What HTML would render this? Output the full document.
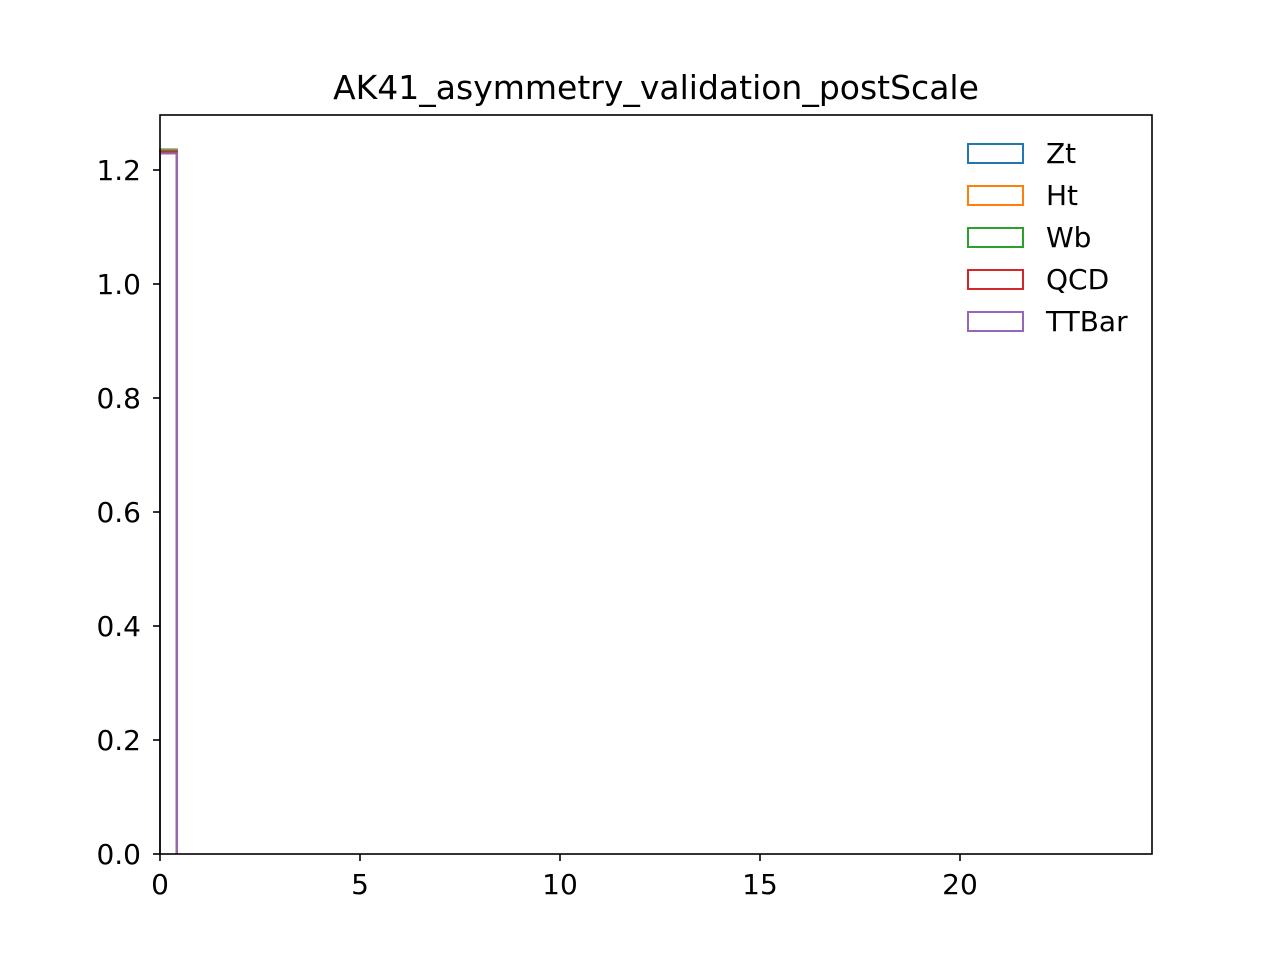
<!DOCTYPE html>
<html><head><meta charset="utf-8"><style>
body{margin:0;background:#fff;font-family:"Liberation Sans","DejaVu Sans",sans-serif;}
svg text{font-family:"DejaVu Sans","Liberation Sans",sans-serif;}
</style></head><body>
<svg id="chart" width="1280" height="960">
<rect width="1280" height="960" fill="#fff"/>
<text x="656" y="99" font-size="33" text-anchor="middle">AK41_asymmetry_validation_postScale</text>
<g id="marks"></g>
<g id="axes"></g>
<rect x="160" y="115" width="992" height="739" fill="none" stroke="#000" stroke-width="1.6"/>
<g id="legend"></g>
</svg>
<script>
const seriesNames=["Zt","Ht","Wb","QCD","TTBar"];
const seriesColors=["#1f77b4","#ff7f0e","#2ca02c","#d62728","#9467bd"];
const binEdges=[0,0.42];
const seriesValues=[[1.236],[1.235],[1.234],[1.232],[1.229]];
const xTicks=[0,5,10,15,20];
const yTicks=[0.0,0.2,0.4,0.6,0.8,1.0,1.2];
const X0=160,X1=1152,Y0=854,Y1=115,xmax=24.8,ymax=1.2965;
const xs=v=>X0+v/xmax*(X1-X0);
const ys=v=>Y0-v/ymax*(Y0-Y1);
const NS="http://www.w3.org/2000/svg";
function mk(t,a,p){const e=document.createElementNS(NS,t);for(const k in a)e.setAttribute(k,a[k]);p.appendChild(e);return e;}
const marks=document.getElementById('marks');
seriesValues.forEach((vals,i)=>{
 let d=`M${xs(binEdges[0])},${ys(0)}`;
 vals.forEach((v,j)=>{d+=` L${xs(binEdges[j])},${ys(v)} L${xs(binEdges[j+1])},${ys(v)}`;});
 d+=` L${xs(binEdges[binEdges.length-1])},${ys(0)}`;
 const p=mk('path',{d:d,fill:'none',stroke:seriesColors[i],'stroke-width':2},marks);
 
 
});
const axes=document.getElementById('axes');
xTicks.forEach(t=>{
 const x=xs(t);
 const l=mk('line',{x1:x,x2:x,y1:Y0,y2:Y0+7,stroke:'#000','stroke-width':1.6},axes);
 
 
 const tx=mk('text',{x:x,y:Y0+40,'font-size':28,'text-anchor':'middle'},axes);
 tx.textContent=t;
 
 
});
yTicks.forEach(t=>{
 const y=ys(t);
 const l=mk('line',{x1:X0-7,x2:X0,y1:y,y2:y,stroke:'#000','stroke-width':1.6},axes);
 
 
 const tx=mk('text',{x:X0-19,y:y+10,'font-size':28,'text-anchor':'end'},axes);
 tx.textContent=t.toFixed(1);
 
 
});
const lg=document.getElementById('legend');
seriesNames.forEach((n,i)=>{
 const y=153+i*42;
 const r=mk('rect',{x:968,y:y-9,width:55,height:19,fill:'none',stroke:seriesColors[i],'stroke-width':2},lg);
 
 
 const t=mk('text',{x:1046,y:y+10,'font-size':28},lg);
 t.textContent=n;
 
 
});
</script>
</body></html>
